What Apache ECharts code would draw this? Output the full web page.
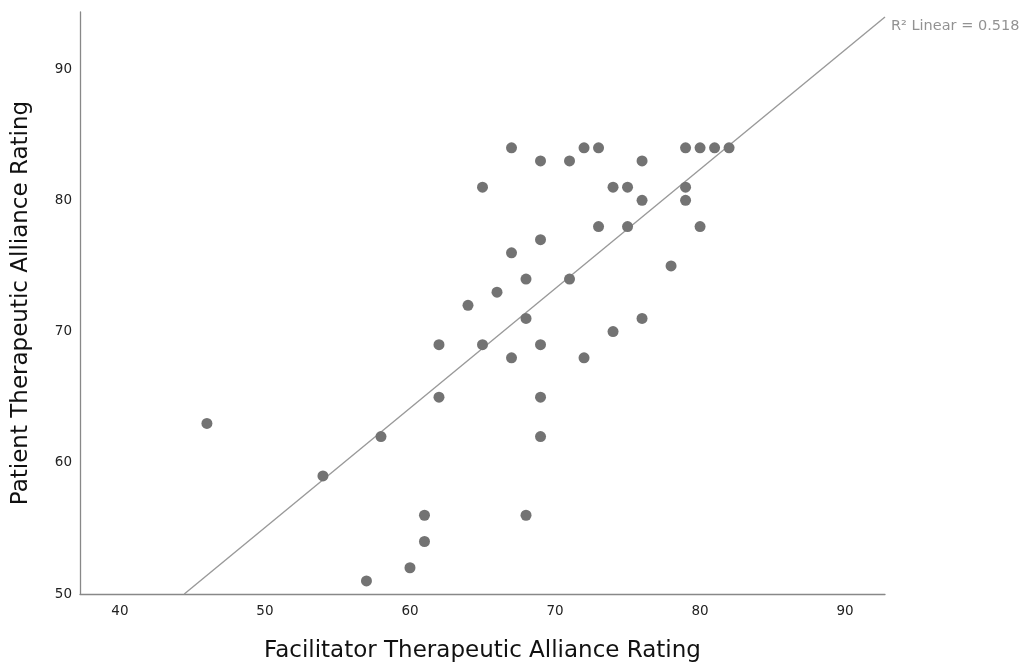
<!DOCTYPE html>
<html>
<head>
<meta charset="utf-8">
<script src="https://cdn.jsdelivr.net/npm/echarts@6/dist/echarts.min.js"></script>
<style>html,body{margin:0;padding:0;background:#fff}#c{width:1029px;height:668px}</style>
</head>
<body>
<div id="c"></div>
<script>
const facilitator = [46,54,58,57,60,61,61,62,62,64,65,65,66,67,67,67,68,68,68,69,69,69,69,69,71,71,72,72,73,73,74,74,75,75,76,76,76,78,79,79,79,80,80,81,82];
const patient     = [63,59,62,51,52,56,54,69,65,72,81,69,73,84,76,68,74,71,56,83,77,69,65,62,83,74,84,68,84,78,81,70,81,78,83,80,71,75,84,81,80,84,78,84,84];
const xTicks = [40,50,60,70,80,90];
const yTicks = [50,60,70,80,90];
const xTitle = 'Facilitator Therapeutic Alliance Rating';
const yTitle = 'Patient Therapeutic Alliance Rating';
const fitLabel = 'R\u00b2 Linear = 0.518';

const XMIN = 37.25, XMAX = 92.75, YMIN = 50, YMAX = 94.35;

// least squares fit
const n = facilitator.length;
const mx = facilitator.reduce((a,b)=>a+b,0)/n;
const my = patient.reduce((a,b)=>a+b,0)/n;
let sxy=0, sxx=0;
for (let i=0;i<n;i++){ sxy += (facilitator[i]-mx)*(patient[i]-my); sxx += (facilitator[i]-mx)**2; }
const slope = sxy/sxx, intercept = my - slope*mx;
let x0 = XMIN, y0 = intercept + slope*x0;
if (y0 < YMIN) { x0 = (YMIN-intercept)/slope; y0 = YMIN; }
let x1 = XMAX, y1 = intercept + slope*x1;
if (y1 > YMAX) { x1 = (YMAX-intercept)/slope; y1 = YMAX; }

const pts = facilitator.map((x,i)=>[x, patient[i]]);
const font = '"DejaVu Sans", sans-serif';

const chart = echarts.init(document.getElementById('c'), null, {renderer:'canvas'});
chart.setOption({
  animation:false,
  grid:{left:80, right:144, top:12, bottom:74},
  xAxis:{
    type:'value', min:XMIN, max:XMAX,
    axisLine:{show:true, lineStyle:{color:'#888', width:1.3}},
    axisTick:{show:false},
    splitLine:{show:false},
    axisLabel:{customValues:xTicks, color:'#222', fontSize:13.5, fontFamily:font, margin:10},
    name:xTitle, nameLocation:'middle', nameGap:46,
    nameTextStyle:{color:'#111', fontSize:23, fontFamily:font}
  },
  yAxis:{
    type:'value', min:YMIN, max:YMAX,
    axisLine:{show:true, lineStyle:{color:'#888', width:1.3}},
    axisTick:{show:false},
    splitLine:{show:false},
    axisLabel:{customValues:yTicks, color:'#222', fontSize:13.5, fontFamily:font, margin:8},
    name:yTitle, nameLocation:'middle', nameGap:47, nameRotate:90,
    nameTextStyle:{color:'#111', fontSize:23, fontFamily:font}
  },
  series:[
    {
      type:'line', data:[[x0,y0],[x1,y1]],
      showSymbol:false, symbol:'none', silent:true,
      lineStyle:{color:'#999', width:1.4},
      clip:false, z:1
    },
    {
      type:'scatter', data:[[x1,y1]], symbolSize:0, silent:true,
      label:{show:true, position:'right', distance:6, offset:[0,9], formatter:fitLabel, color:'#777', fontSize:14.5, fontFamily:font},
      z:3
    },
    {
      type:'scatter', data:pts, symbolSize:11,
      itemStyle:{color:'#737373', opacity:1}, z:2
    }
  ]
});
</script>
</body>
</html>
